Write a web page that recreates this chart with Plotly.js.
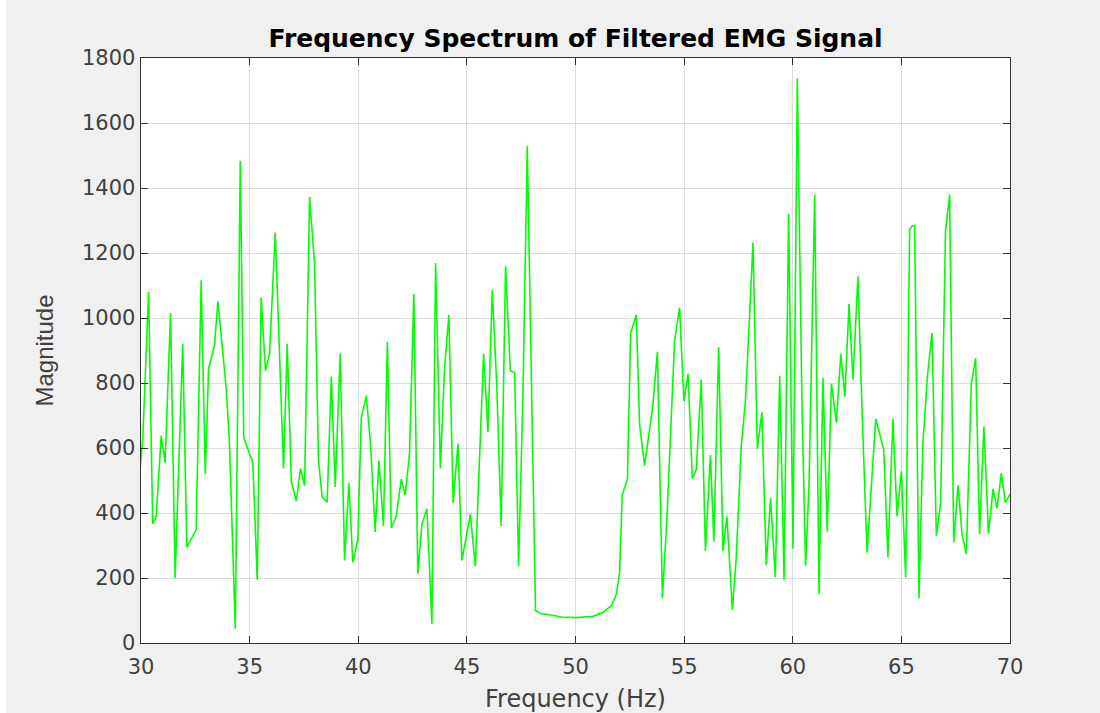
<!DOCTYPE html>
<html>
<head>
<meta charset="utf-8">
<script src="https://cdn.plot.ly/plotly-3.0.1.min.js"></script>
<style>html,body{margin:0;padding:0;background:#f0f0f0;}#chart{width:1100px;height:713px;}</style>
</head>
<body>
<div id="chart"></div>
<script>
var freqHz = [29.88,30.08,30.35,30.54,30.70,30.93,31.11,31.36,31.57,31.92,32.11,32.54,32.77,32.96,33.11,33.38,33.54,33.72,33.92,34.07,34.34,34.57,34.73,34.92,
35.15,35.35,35.53,35.73,35.92,36.18,36.56,36.73,36.92,37.15,37.34,37.53,37.76,37.99,38.17,38.34,38.57,38.76,38.94,39.17,39.37,39.57,39.75,
39.98,40.14,40.37,40.57,40.78,40.95,41.16,41.34,41.52,41.75,41.98,42.16,42.36,42.56,42.74,42.93,43.16,43.39,43.56,43.78,43.97,44.17,44.37,44.59,44.77,
45.16,45.39,45.77,45.97,46.17,46.38,46.58,46.78,47.00,47.20,47.38,47.58,47.78,48.16,48.39,48.89,49.35,50.04,50.80,51.26,51.65,51.88,52.03,52.15,52.39,
52.54,52.80,52.95,53.18,53.33,53.56,53.77,54.00,54.21,54.56,54.79,54.99,55.18,55.38,55.56,55.79,55.98,56.21,56.37,56.59,56.79,56.97,57.22,57.40,
57.63,57.82,57.98,58.17,58.37,58.58,58.78,58.98,59.20,59.40,59.60,59.81,60.01,60.21,60.42,60.59,60.75,61.01,61.21,61.39,61.59,61.78,62.01,62.21,
62.40,62.59,62.77,63.00,63.20,63.42,63.82,64.19,64.38,64.61,64.80,65.00,65.20,65.38,65.51,65.61,65.81,65.99,66.20,66.41,66.61,66.81,67.03,67.22,
67.41,67.61,67.79,67.99,68.22,68.42,68.60,68.80,69.01,69.22,69.40,69.60,69.79,69.99,70.15];
var magnitude = [478,626,1080,366,390,638,555,1015,200,921,295,348,1116,519,844,915,1051,915,785,620,44,1484,632,596,
555,195,1063,838,891,1263,537,921,496,437,537,484,1373,1163,561,449,433,820,480,891,254,492,248,
319,691,761,608,342,561,360,927,354,390,504,455,584,1074,212,366,413,59,1169,537,844,1009,431,614,254,
396,236,891,649,1086,785,360,1159,838,832,236,761,1529,100,91,86,80,78,82,94,115,150,216,456,504,
954,1010,672,546,618,732,896,138,384,930,1032,744,828,506,534,810,284,578,312,910,282,390,102,264,
606,744,960,1232,598,710,240,446,202,822,192,1320,290,1738,750,238,486,1380,150,816,342,798,678,890,
758,1044,810,1128,696,278,690,594,264,690,390,528,202,1272,1284,1284,138,612,822,954,330,432,1266,1380,
310,486,336,274,798,876,334,666,336,474,414,522,432,456,440];
var xTicks = [30,35,40,45,50,55,60,65,70];
var yTicks = [0,200,400,600,800,1000,1200,1400,1600,1800];

var wideFont = '"DejaVu Sans", sans-serif';
var narrowFont = '"Liberation Sans", Arial, sans-serif';
var axisCommon = {
  showline: true, linecolor: '#333333', linewidth: 1.4, mirror: 'ticks',
  ticks: 'inside', ticklen: 7, tickcolor: '#333333', tickwidth: 1,
  showgrid: true, gridcolor: '#dcdcdc', gridwidth: 1, zeroline: false,
  tickfont: {family: wideFont, size: 21, color: '#404040'}
};
var plotW = 1100 - 141 - 90;
var layout = {
  width: 1100, height: 713,
  paper_bgcolor: '#f0f0f0', plot_bgcolor: '#ffffff',
  margin: {l: 141, r: 90, t: 58, b: 70},
  showlegend: false,
  shapes: [{type: 'rect', xref: 'paper', yref: 'paper', x0: -141/plotW, x1: -135/plotW, y0: -0.2, y1: 1.2,
    fillcolor: '#ffffff', line: {width: 0}, layer: 'below'}],
  title: {text: '<b>Frequency Spectrum of Filtered EMG Signal</b>', font: {family: wideFont, size: 25, color: '#000000'},
    x: 0.5, xref: 'paper', xanchor: 'center', y: 1 - 38/713, yref: 'container', yanchor: 'middle'},
  xaxis: Object.assign({}, axisCommon, {
    range: [30, 70], tickvals: xTicks, ticktext: xTicks.map(String), ticklabelstandoff: 4,
    title: {text: 'Frequency (Hz)', font: {family: wideFont, size: 24, color: '#404040'}, standoff: 12}
  }),
  yaxis: Object.assign({}, axisCommon, {
    range: [0, 1800], tickvals: yTicks, ticktext: yTicks.map(String),
    title: {text: 'Magnitude', font: {family: narrowFont, size: 24, color: '#404040'}, standoff: 21}
  })
};
var trace = {x: freqHz, y: magnitude, type: 'scatter', mode: 'lines',
  line: {color: '#00ff00', width: 1.6}, cliponaxis: true};
Plotly.newPlot('chart', [trace], layout, {displayModeBar: false, staticPlot: true});
</script>
</body>
</html>
